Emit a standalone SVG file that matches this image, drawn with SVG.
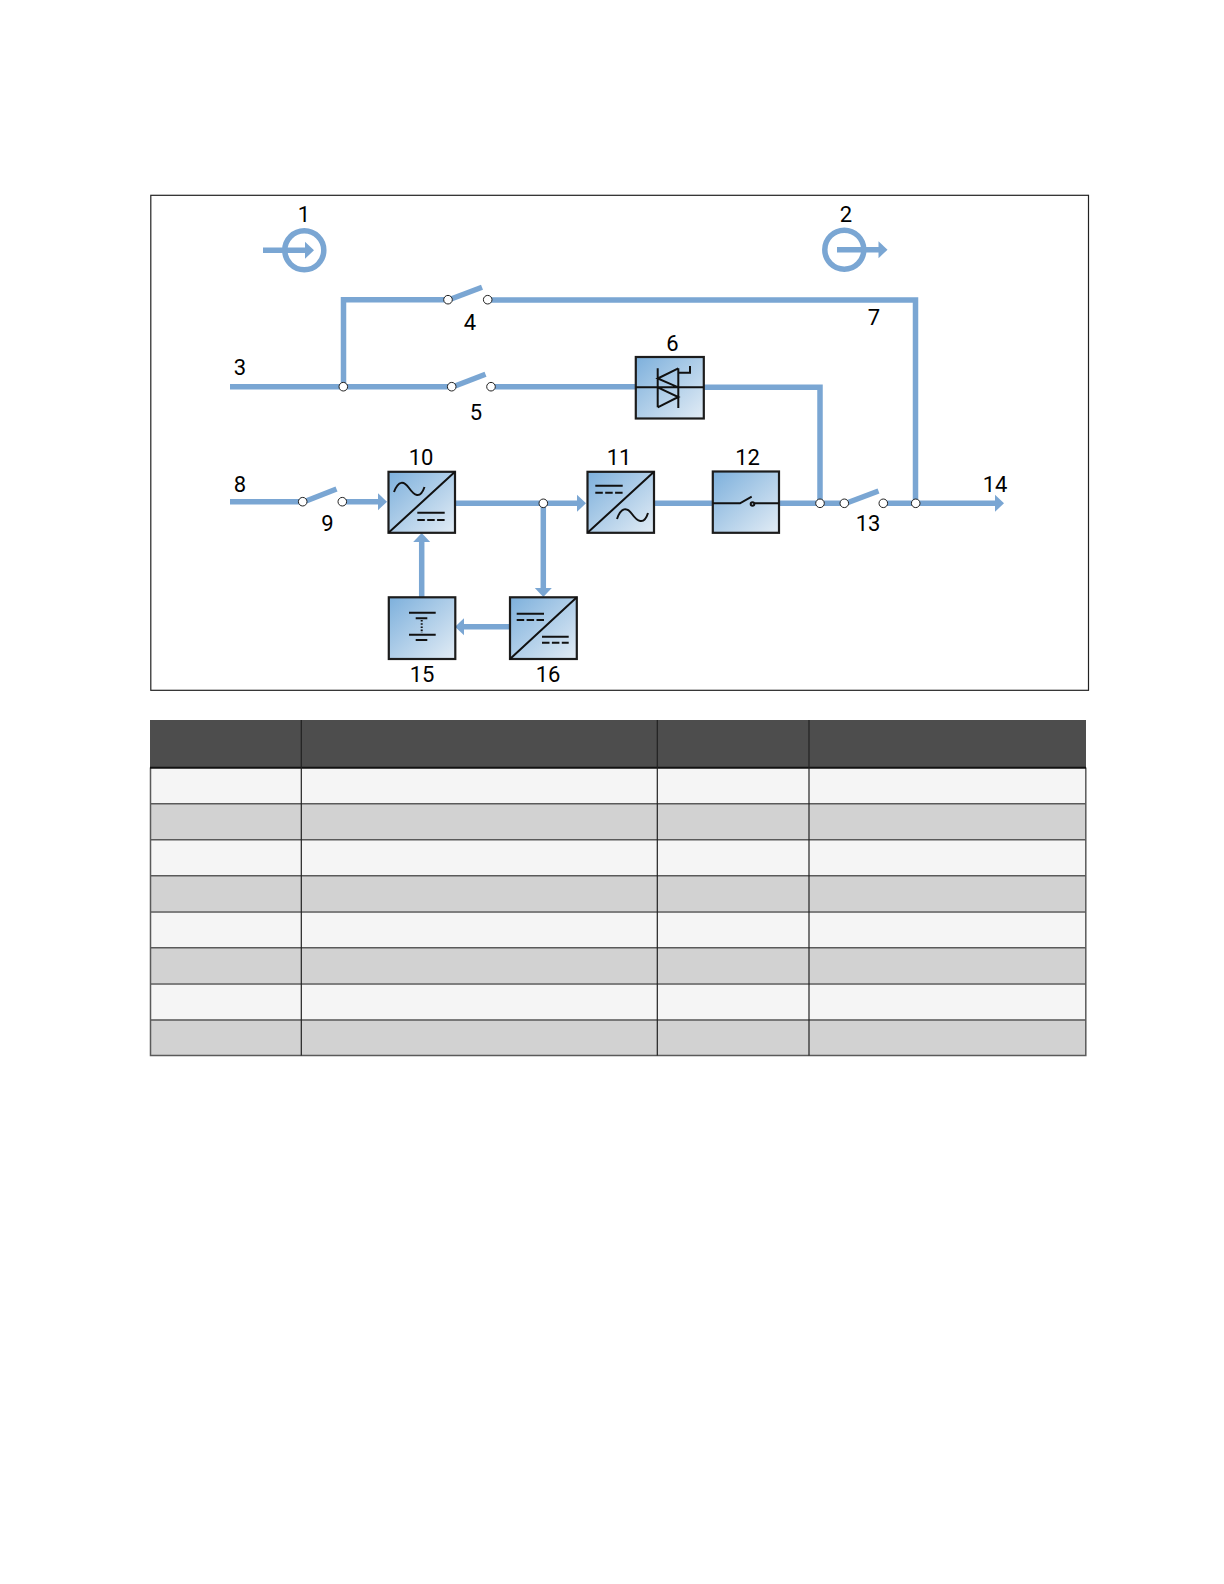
<svg xmlns="http://www.w3.org/2000/svg" width="1224" height="1584" viewBox="0 0 1224 1584">
<style>
.w{fill:none;stroke:#7aa6d3;stroke-width:5.5;stroke-linejoin:miter}
.a{marker-end:url(#ah)}
.j{fill:#fff;stroke:#222;stroke-width:1}
.b{fill:url(#g);stroke:#1c1c1c;stroke-width:2.200}
.i{fill:none;stroke:#111;stroke-width:2}
.d{stroke-dasharray:7.500 2.400}
.t{font-family:Roboto,"Liberation Sans",sans-serif;font-size:22px;font-weight:400;fill:#000;text-anchor:middle}
.h{fill:#4d4d4d}.l{fill:#f5f5f5}.k{fill:#d2d2d2}
.r{stroke:#5a5a5a;stroke-width:1.500;fill:none}
.v{stroke:#222;stroke-width:1.200;fill:none}
</style>
<defs>
<linearGradient id="g" x1="0" y1="0" x2="1" y2="1"><stop offset="0" stop-color="#7db0dc"/><stop offset="1" stop-color="#e2ecf5"/></linearGradient>
<marker id="ah" markerUnits="userSpaceOnUse" markerWidth="14" markerHeight="20" refX="3" refY="10" orient="auto" overflow="visible"><path d="M11 10L2 1.500V18.500Z" fill="#7aa6d3"/></marker>
</defs>
<rect width="1224" height="1584" fill="#fff"/>
<rect x="150.800" y="195.300" width="937.700" height="495" fill="#fff" stroke="#222" stroke-width="1.200"/>

<g id="connectors">
<path class="w" d="M230 386.700H448"/>
<path class="w" d="M448 299.700H343.500V386.700"/>
<path class="w" d="M491 386.700H636"/>
<path class="w" d="M487.500 300H915.500V503.300"/>
<path class="w" d="M704 387.300H820V503.300"/>
<path class="w" d="M230 501.700H302"/>
<path class="w a" d="M342 501.700H379"/>
<path class="w" d="M455 503.300H543"/>
<path class="w a" d="M543 503.300H578"/>
<path class="w a" d="M543.300 503.300V589"/>
<path class="w a" d="M510 626.700H463"/>
<path class="w a" d="M421.700 597V541"/>
<path class="w" d="M654 503.300H713"/>
<path class="w" d="M779 503.300H844"/>
<path class="w a" d="M883 503.300H996"/>
<path class="w" d="M451 299L482 287.200"/>
<path class="w" d="M455 386L485.500 374.200"/>
<path class="w" d="M306 501L336.500 489"/>
<path class="w" d="M848 502.500L878.500 491"/>
</g>

<g id="n1"><circle class="w" cx="304.300" cy="250.300" r="19.500"/><path class="w a" d="M263 250.300H306"/><text class="t" x="304" y="222">1</text></g>
<g id="n2"><circle class="w" cx="844.300" cy="249.700" r="19.500"/><path class="w a" d="M837 249.700H879.500"/><text class="t" x="846" y="222">2</text></g>
<g id="n3"><text class="t" x="240" y="374.500">3</text><circle class="j" cx="343.300" cy="386.700" r="4.300"/></g>
<g id="n4"><circle class="j" cx="448" cy="299.700" r="4.300"/><circle class="j" cx="487.700" cy="299.700" r="4.300"/><text class="t" x="470" y="329.500">4</text></g>
<g id="n5"><circle class="j" cx="451.700" cy="386.700" r="4.300"/><circle class="j" cx="491" cy="386.700" r="4.300"/><text class="t" x="476" y="419.500">5</text></g>
<g id="n6"><rect class="b" x="635.800" y="357" width="68" height="61.500"/>
<path class="i" d="M635.800 387.300H703.800M657.700 368.300V407.300M678.300 368.300V408M678.300 368.300L657.700 378.500L678.300 387.300M657.700 387.300L678.300 397L657.700 407.300M678.300 372.700H690V366"/>
<text class="t" x="672.500" y="350.500">6</text></g>
<g id="n7"><text class="t" x="874" y="324.500">7</text></g>
<g id="n8"><text class="t" x="240" y="491.500">8</text></g>
<g id="n9"><circle class="j" cx="302.700" cy="501.700" r="4.300"/><circle class="j" cx="342.300" cy="501.700" r="4.300"/><text class="t" x="327.500" y="531">9</text></g>
<g id="n10"><rect class="b" x="388.500" y="471.800" width="66.500" height="61"/>
<path class="i" d="M388.500 532.800L455 471.800M394 492C398.500 480 404 481 409 488S420 500 424.500 487M417.300 512.700H444.700"/><path class="i d" d="M417.300 520H444.700"/>
<text class="t" x="421" y="464.500">10</text></g>
<g id="n11"><rect class="b" x="587.500" y="471.800" width="66.500" height="61"/>
<path class="i" d="M587.500 532.800L654 471.800M595.300 485.700H622.700M617 519C621 507 627 507 632 514S644 526 648 513"/><path class="i d" d="M595.300 492.700H622.700"/>
<text class="t" x="619" y="464.500">11</text></g>
<g id="n12"><rect class="b" x="712.800" y="471.500" width="66.200" height="61.300"/>
<path class="i" d="M712.800 503.300H740L751.700 496.700M754.500 503.300H779"/><circle class="i" cx="752.500" cy="504" r="1.800"/>
<text class="t" x="747.500" y="464.500">12</text></g>
<g id="n13"><circle class="j" cx="820" cy="503.300" r="4.300"/><circle class="j" cx="844.300" cy="503.300" r="4.300"/><circle class="j" cx="883.300" cy="503.300" r="4.300"/><circle class="j" cx="915.700" cy="503.300" r="4.300"/><text class="t" x="868" y="531">13</text></g>
<g id="n14"><text class="t" x="995" y="491.500">14</text></g>
<g id="n15"><rect class="b" x="388.800" y="597.300" width="66.500" height="61.700"/>
<path class="i" d="M409 612.700H435.700M415.700 618.300H427.300M409 634.700H435.700M415.700 640H427.300"/><path class="i" stroke-dasharray="1.600 1.600" d="M421.700 620V633"/>
<text class="t" x="422" y="681.500">15</text></g>
<g id="n16"><rect class="b" x="510" y="597.300" width="66.800" height="61.700"/>
<path class="i" d="M510 659L576.800 597.300M516.700 613.700H544M542 636.700H568.700"/><path class="i d" d="M516.700 620H544M542 642.700H568.700"/>
<text class="t" x="548" y="681.500">16</text></g>
<circle class="j" cx="543.300" cy="503.300" r="4.300"/>

<g id="table">
<rect class="h" x="150" y="720" width="936" height="47.500"/>
<rect class="l" x="150" y="767.500" width="936" height="36"/>
<rect class="k" x="150" y="803.500" width="936" height="36"/>
<rect class="l" x="150" y="839.500" width="936" height="36"/>
<rect class="k" x="150" y="875.500" width="936" height="36"/>
<rect class="l" x="150" y="911.500" width="936" height="36"/>
<rect class="k" x="150" y="947.500" width="936" height="36"/>
<rect class="l" x="150" y="983.500" width="936" height="36"/>
<rect class="k" x="150" y="1019.500" width="936" height="36"/>
<path class="r" d="M150 803.800H1086M150 839.800H1086M150 875.800H1086M150 912H1086M150 947.800H1086M150 984H1086M150 1020H1086M150.500 767.500V1055.500H1085.800V767.500"/>
<path d="M150 767.800H1086" stroke="#111" stroke-width="2"/>
<path class="v" d="M301.300 720V1055.500M657.300 720V1055.500"/>
<path class="v" stroke-width="1.600" d="M809 720V1055.500"/>
</g>
</svg>
